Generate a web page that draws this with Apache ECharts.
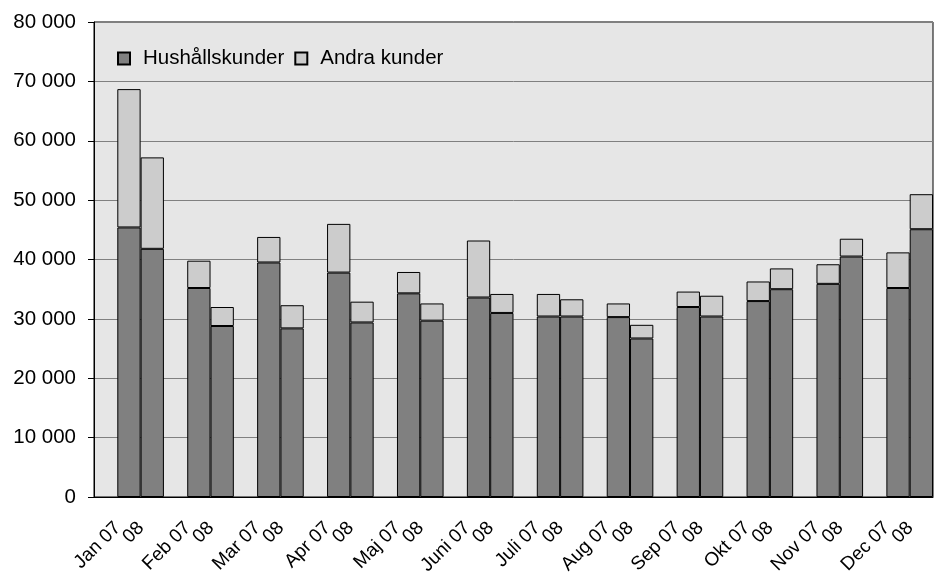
<!DOCTYPE html>
<html>
<head>
<meta charset="utf-8">
<script src="https://cdn.jsdelivr.net/npm/echarts@6/dist/echarts.min.js"></script>
<style>html,body{margin:0;padding:0;background:#fff;}#c{width:935px;height:583px;}</style>
</head>
<body>
<div id="c"></div>
<script>
var months = ['Jan','Feb','Mar','Apr','Maj','Juni','Juli','Aug','Sep','Okt','Nov','Dec'];
var hush07 = [45400, 35200, 39500, 37800, 34300, 33600, 30400, 30300, 32000, 33000, 35900, 35200];
var andra07 = [23300, 4600, 4300, 8200, 3600, 9600, 3800, 2300, 2600, 3300, 3300, 6000];
var hush08 = [41800, 28800, 28400, 29400, 29700, 31000, 30400, 26700, 30400, 35000, 40500, 45100];
var andra08 = [15400, 3200, 3900, 3500, 2900, 3200, 2900, 2300, 3500, 3500, 3000, 5900];
var yTicks = [0, 10000, 20000, 30000, 40000, 50000, 60000, 70000, 80000];

var cats = [], hush = [], andra = [];
months.forEach(function (m, i) {
  cats.push('', m + ' 07', '08');
  hush.push('-', hush07[i], hush08[i]);
  andra.push('-', andra07[i], andra08[i]);
});

var FONT = "'Liberation Sans', Arial, sans-serif";
var chart = echarts.init(document.getElementById('c'));
chart.setOption({
  animation: false,
  textStyle: { fontFamily: FONT },
  grid: {
    left: 94, top: 22, right: 2, bottom: 86,
    show: true, backgroundColor: '#e6e6e6', borderColor: '#000', borderWidth: 1
  },
  legend: {
    left: 117, top: 48, padding: 0,
    itemWidth: 12, itemHeight: 12, itemGap: 10,
    icon: 'rect',
    textStyle: { fontSize: 20.5, color: '#000', fontFamily: FONT, padding: [0, 0, 0, 8] },
    data: ['Hushållskunder', 'Andra kunder']
  },
  xAxis: {
    type: 'category',
    data: cats,
    axisLine: { show: true, lineStyle: { color: '#000', width: 1 } },
    axisTick: { show: false },
    axisLabel: {
      interval: 0, rotate: 45, fontSize: 19, color: '#000', fontFamily: FONT,
      margin: 17,
      formatter: function (v) { return v ? v + '\u00a0\u00a0\u00a0' : ''; }
    },
    splitLine: { show: false }
  },
  yAxis: {
    type: 'value',
    min: yTicks[0], max: yTicks[yTicks.length - 1], interval: 10000,
    axisLine: { show: true, lineStyle: { color: '#000', width: 1 } },
    axisTick: { show: true, length: 6, lineStyle: { color: '#000' } },
    axisLabel: {
      fontSize: 20.5, color: '#000', margin: 18, fontFamily: FONT,
      formatter: function (v) { return String(v).replace(/\B(?=(\d{3})+(?!\d))/g, ' '); }
    },
    splitLine: { show: true, lineStyle: { color: '#808080', width: 1 } }
  },
  series: [
    {
      name: 'Hushållskunder', type: 'bar', stack: 'a', data: hush,
      barCategoryGap: '0%', barGap: '0%',
      itemStyle: { color: '#808080', borderColor: '#000', borderWidth: 1 }
    },
    {
      name: 'Andra kunder', type: 'bar', stack: 'a', data: andra,
      barCategoryGap: '0%', barGap: '0%',
      itemStyle: { color: '#cccccc', borderColor: '#000', borderWidth: 1 }
    }
  ]
});
</script>
</body>
</html>
